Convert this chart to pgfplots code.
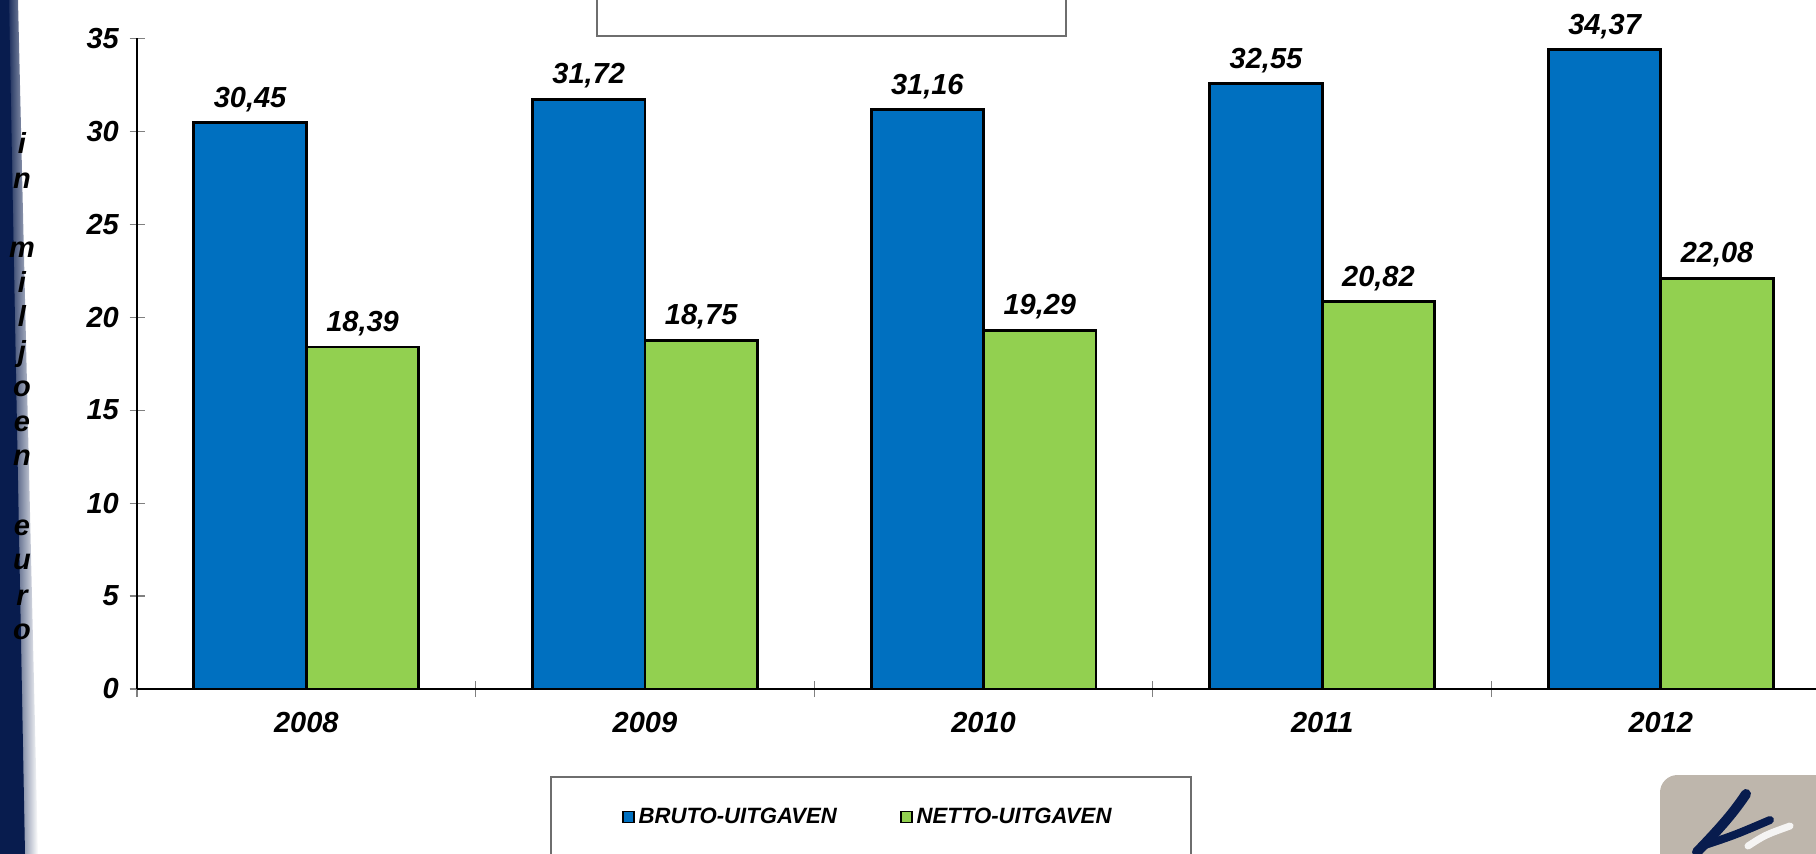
\documentclass[border=0pt]{standalone}
\usepackage{fontspec}
\setmainfont{Liberation Sans}
\usepackage{pgfplots}
\pgfplotsset{compat=1.18}
\definecolor{bruto}{RGB}{0,112,192}
\definecolor{netto}{RGB}{146,208,80}
\definecolor{navy}{RGB}{8,28,78}
\definecolor{logogray}{RGB}{190,182,172}
\definecolor{boxgray}{RGB}{110,110,110}
\newcommand{\chartfont}{\fontsize{16.5}{19}\selectfont\bfseries\itshape}

\begin{document}
\begin{tikzpicture}[x=0.02cm, y=-0.02cm, font=\chartfont]
% one unit = one pixel of the 1816x854 reference, y pointing down
\useasboundingbox (0,0) rectangle (1816,854);
\clip (0,0) rectangle (1816,854);

% dark strip on the left edge
\shade[left color=navy, right color=white] (6,0) -- (18,0) -- (38,854) -- (22,854) -- cycle;
\fill[navy] (0,0) -- (9,0) -- (25,854) -- (0,854) -- cycle;

% stacked axis title
\foreach \c/\yy in {i/145, n/180, m/249, i/284, l/318, j/353, o/388, e/423, n/457, e/527, u/561, r/596, o/631}
  \node[anchor=base, inner sep=0pt] at (22,\yy+9) {\c};

% empty title box at the top and legend frame at the bottom
\draw[boxgray, line width=0.8pt] (597,-5) rectangle (1066,36);
\draw[boxgray, line width=0.8pt] (551,777) rectangle (1191,900);

% logo corner
\fill[logogray, rounded corners=0.35cm] (1660,775) rectangle (1900,920);
\draw[white!85!logogray, line width=0.14cm, line cap=round] (1748,846) .. controls (1765,835) .. (1790,826);
\draw[navy, line width=0.2cm, line cap=round] (1697,852) .. controls (1722,826) and (1734,812) .. (1746,794);
\draw[navy, line width=0.16cm, line cap=round] (1702,846) .. controls (1735,835) .. (1770,820);

\coordinate (O) at (137,689);
\begin{axis}[
    at={(O)}, anchor=south west,
    scale only axis,
    width=33.87cm, height=13.02cm,
    xmin=-0.5, xmax=4.5,
    ymin=0, ymax=35,
    axis x line=bottom, axis y line=left,
    axis line style={-, black, line width=0.8pt},
    ybar=0pt, bar width=2.25cm,
    ytick={0,5,...,35},
    xtick={0,1,2,3,4},
    xticklabels={2008,2009,2010,2011,2012},
    minor xtick={-0.5,0.5,...,4.5},
    major x tick style={draw=none},
    tick align=center,
    major tick length=0.3cm, minor tick length=0.32cm,
    tick style={gray, line width=0.6pt},
    tick label style={font=\chartfont},
    yticklabel style={xshift=-0.09cm},
    xticklabel style={yshift=-0.2cm},
    /pgf/number format/assume math mode=true,
    nodes near coords={\pgfmathprintnumber[use comma, fixed, fixed zerofill, precision=2]{\pgfplotspointmeta}},
    nodes near coords style={font=\chartfont, anchor=base, yshift=0.31cm, inner sep=0pt},
    legend columns=2,
    legend style={at={(0.2864,-0.1966)}, anchor=west, draw=none, fill=none, inner sep=0pt,
        font=\fontsize{12.6}{14}\selectfont\bfseries\itshape,
        /tikz/every even column/.append style={column sep=1.2cm}},
    legend image code/.code={\draw[#1, line width=1pt] (0cm,-0.11cm) rectangle (0.22cm,0.11cm);},
]
\addplot[fill=bruto, draw=black, line width=1.6pt] coordinates {
    (0,30.45) (1,31.72) (2,31.16) (3,32.55) (4,34.37)
};
\addplot[fill=netto, draw=black, line width=1.6pt] coordinates {
    (0,18.39) (1,18.75) (2,19.29) (3,20.82) (4,22.08)
};
\legend{BRUTO-UITGAVEN, NETTO-UITGAVEN}
\end{axis}
\end{tikzpicture}
\end{document}
